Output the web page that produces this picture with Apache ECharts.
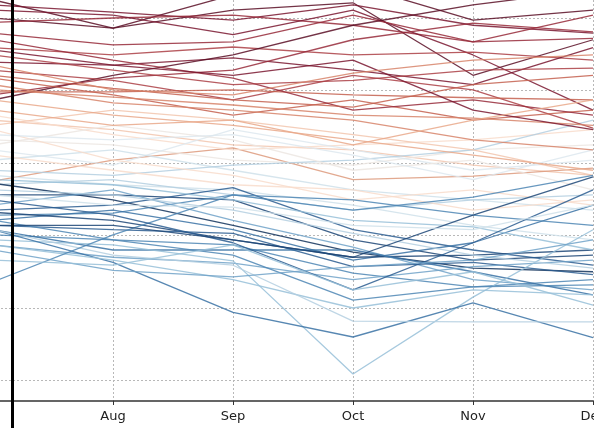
<!DOCTYPE html>
<html>
<head>
<meta charset="utf-8">
<script src="https://cdn.jsdelivr.net/npm/echarts@6/dist/echarts.min.js"></script>
<style>
html,body{margin:0;padding:0;background:#fff;}
#chart{width:594px;height:428px;}
</style>
</head>
<body>
<div id="chart"></div>
<script>
// Category labels (x axis)
var months = ['Jul', 'Aug', 'Sep', 'Oct', 'Nov', 'Dec'];

// Upper (warm) lines: values per month Jul..Dec
var redLines = [
  [5.25, 4.86, 5.32, 5.46, 4.97, 5.11],
  [5.00, 4.86, 5.11, 5.21, 4.21, 4.70],
  [5.18, 5.08, 4.97, 5.18, 4.90, 4.79],
  [4.94, 5.00, 5.04, 4.90, 4.67, 5.04],
  [5.11, 5.04, 4.77, 5.11, 4.49, 3.73],
  [4.79, 4.63, 4.67, 5.04, 4.67, 4.72],
  [4.59, 4.49, 4.60, 4.49, 4.53, 4.42],
  [4.39, 4.35, 4.45, 4.28, 4.08, 4.59],
  [3.87, 4.21, 4.49, 4.90, 5.18, 5.39],
  [3.94, 4.17, 4.28, 4.70, 4.93, 4.81],
  [4.28, 4.14, 3.87, 4.21, 4.01, 3.48],
  [3.98, 3.98, 4.01, 3.94, 3.90, 3.87],
  [4.17, 3.94, 3.66, 3.87, 3.59, 3.73],
  [4.01, 3.91, 3.80, 3.66, 3.62, 3.52],
  [4.70, 4.42, 4.17, 3.73, 3.87, 3.66],
  [4.49, 4.28, 4.08, 4.14, 4.28, 4.31],
  [4.08, 3.83, 3.73, 3.59, 3.32, 3.18],
  [3.87, 3.66, 3.52, 3.32, 3.11, 2.90],
  [4.21, 4.03, 3.87, 3.77, 4.08, 4.21],
  [4.56, 4.35, 4.21, 4.42, 3.73, 3.46],
  [4.35, 4.01, 3.94, 4.24, 4.42, 4.49],
  [3.73, 3.52, 3.59, 3.25, 3.59, 3.87]
];

// Middle (pale) lines
var paleLines = [
  [3.59, 3.46, 3.25, 3.18, 2.97, 2.83],
  [2.75, 3.04, 3.21, 2.77, 2.82, 2.93],
  [3.66, 3.39, 3.18, 3.25, 3.32, 3.46],
  [3.32, 3.25, 3.04, 2.97, 3.18, 3.25],
  [3.18, 2.97, 3.46, 3.18, 2.90, 3.04],
  [3.04, 3.18, 2.90, 2.63, 2.49, 2.35],
  [2.90, 2.83, 2.97, 3.04, 3.18, 3.59],
  [3.46, 3.04, 2.83, 2.49, 2.63, 2.42],
  [3.25, 3.52, 3.32, 2.90, 3.04, 2.63],
  [2.83, 2.70, 2.63, 2.42, 2.14, 1.94],
  [3.52, 3.73, 3.59, 3.39, 3.18, 2.83],
  [3.39, 3.32, 3.39, 3.11, 2.77, 3.18],
  [2.70, 2.77, 2.56, 2.35, 2.49, 2.56],
  [3.11, 2.90, 2.70, 2.63, 2.35, 2.49]
];

// Lower (cool) lines
var blueLines = [
  [2.72, 2.49, 2.14, 1.77, 1.55, 1.50],
  [2.56, 2.56, 2.49, 1.94, 1.66, 1.73],
  [2.35, 2.42, 2.66, 2.08, 1.80, 1.59],
  [2.28, 2.31, 2.56, 2.35, 2.53, 2.83],
  [2.21, 2.35, 2.08, 1.66, 1.90, 2.42],
  [2.32, 2.21, 1.94, 1.70, 1.73, 1.80],
  [2.42, 2.63, 2.21, 1.84, 1.39, 1.25],
  [2.14, 2.08, 2.03, 1.57, 1.63, 1.46],
  [2.01, 1.94, 1.87, 1.48, 1.29, 1.39],
  [2.08, 1.80, 1.80, 1.80, 1.50, 1.18],
  [1.87, 1.70, 1.62, 1.39, 1.57, 1.66],
  [1.94, 1.87, 1.65, 0.09, 1.15, 2.08],
  [2.08, 1.63, 0.94, 0.60, 1.07, 0.59],
  [1.87, 1.66, 1.39, 1.00, 1.25, 1.18],
  [2.08, 1.73, 1.59, 0.82, 0.81, 0.81],
  [2.21, 1.94, 1.73, 1.11, 1.29, 1.32],
  [1.36, 2.01, 2.56, 2.49, 2.28, 2.14],
  [2.77, 2.70, 2.49, 2.21, 2.12, 1.80],
  [2.63, 2.56, 2.35, 2.03, 1.73, 1.55],
  [2.49, 2.28, 1.90, 1.25, 1.90, 2.63],
  [1.80, 1.52, 1.43, 1.57, 1.66, 1.94],
  [2.14, 2.14, 1.94, 1.70, 2.28, 2.81],
  [2.56, 2.42, 2.39, 2.14, 2.08, 2.42],
  [1.66, 1.59, 1.87, 1.25, 1.50, 1.04]
];

// Styles (colours per line, muted RdBu-like)
var redColors = ['#5a0f26','#5a0f26','#7a1730','#962a3a','#7a1730','#962a3a','#ab3f45','#7a1730','#5a0f26','#962a3a','#ab3f45','#c4604f','#c4604f','#d7846a','#962a3a','#ab3f45','#d7846a','#e9a88a','#c4604f','#7a1730','#d7846a','#e9a88a'];
var paleColors = ['#f2c6ae','#dd9a7c','#f8dccb','#ece6e2','#dde7ee','#cfe0ea','#b4cfe0','#f8dccb','#ece6e2','#cfe0ea','#f2c6ae','#dde7ee','#b4cfe0','#f8dccb'];
var blueColors = ['#12325c','#1d4677','#2c5d91','#4e86b4','#3a72a4','#1d4677','#70a2c8','#2c5d91','#4e86b4','#3a72a4','#70a2c8','#96bfd8','#3a72a4','#96bfd8','#b4cfe0','#4e86b4','#4e86b4','#96bfd8','#b4cfe0','#2c5d91','#70a2c8','#1d4677','#cfe0ea','#96bfd8'];

var series = [];
function addGroup(rows, colors) {
  rows.forEach(function (row, i) {
    series.push({
      type: 'line',
      xAxisIndex: 0,
      yAxisIndex: 0,
      data: row,
      symbol: 'none',
      clip: false,
      silent: true,
      lineStyle: { color: colors[i], width: 1.3, opacity: 0.85 }
    });
  });
}
addGroup(paleLines, paleColors);
addGroup(blueLines, blueColors);
addGroup(redLines, redColors);

var gridLine = { type: [2, 2], color: '#b8b8b8', width: 1 };

var chart = echarts.init(document.getElementById('chart'), null, { renderer: 'canvas' });
chart.setOption({
  animation: false,
  backgroundColor: '#ffffff',
  grid: [
    { left: -7, right: 1, top: 18, bottom: 47.5, containLabel: false, outerBoundsMode: 'none' },
    { left: -7, right: 1, top: 0, bottom: 27, containLabel: false, outerBoundsMode: 'none' },
    { left: 12, right: 0, top: 0, bottom: 0, containLabel: false, outerBoundsMode: 'none' }
  ],
  xAxis: [
    { gridIndex: 0, type: 'category', data: months, boundaryGap: false, show: false },
    {
      gridIndex: 1, type: 'category', data: months, boundaryGap: false,
      axisLine: { onZero: false, lineStyle: { color: '#333', width: 1.5 } },
      axisTick: { length: 4, lineStyle: { color: '#333', width: 1 } },
      axisLabel: {
        interval: 0, color: '#222', fontSize: 13, fontFamily: 'DejaVu Sans', margin: 9,
        formatter: function (v, i) { return i === 0 ? '' : v; }
      },
      splitLine: { show: true, lineStyle: gridLine }
    },
    { gridIndex: 2, type: 'value', show: false }
  ],
  yAxis: [
    {
      gridIndex: 0, type: 'value', min: 0, max: 5, interval: 1,
      axisLine: { show: false }, axisTick: { show: false }, axisLabel: { show: false },
      splitLine: { show: true, lineStyle: gridLine }
    },
    { gridIndex: 1, type: 'value', show: false },
    {
      gridIndex: 2, type: 'value', z: 10,
      axisLine: { show: true, onZero: false, lineStyle: { color: '#000', width: 3 } },
      axisTick: { show: false }, axisLabel: { show: false }, splitLine: { show: false }
    }
  ],
  series: series
});
</script>
</body>
</html>
